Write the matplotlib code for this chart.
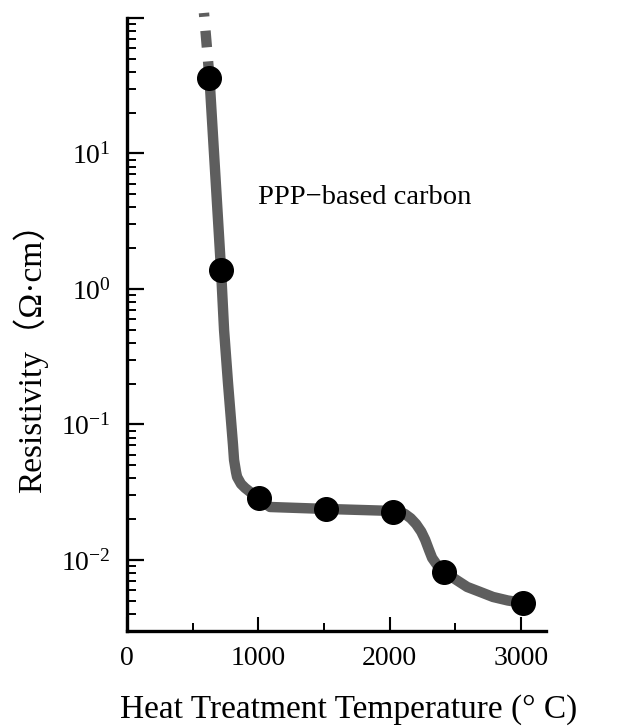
import matplotlib
matplotlib.use("Agg")
import matplotlib.pyplot as plt
from matplotlib.ticker import LogLocator, NullFormatter, FixedLocator

plt.rcParams['font.family'] = ['Liberation Serif', 'Noto Sans CJK SC', 'DejaVu Sans']
plt.rcParams['mathtext.fontset'] = 'custom'
plt.rcParams['mathtext.rm'] = 'Liberation Serif'
plt.rcParams['mathtext.it'] = 'Liberation Serif:italic'

# ---- data ----
marker_T = [628, 716, 1003, 1512, 2022, 2414, 3012]
marker_R = [36.1, 1.38, 0.0285, 0.0237, 0.0227, 0.0082, 0.00479]

curve_T = [628, 716, 739, 769, 807, 815, 830, 838, 868, 899, 937, 1005, 1089,
           1516, 2026, 2080, 2117, 2160, 2201, 2240, 2270, 2300, 2323, 2360,
           2414, 2500, 2590, 2690, 2787, 2900, 3016]
curve_R = [36.1, 1.38, 0.498, 0.202, 0.0706, 0.0547, 0.0446, 0.0410, 0.0364,
           0.0340, 0.0318, 0.0282, 0.0246, 0.0238, 0.0230, 0.0226, 0.0218,
           0.0203, 0.0184, 0.0162, 0.0141, 0.0118, 0.01035, 0.0092, 0.00815,
           0.0072, 0.00632, 0.0058, 0.00533, 0.00502, 0.00482]

dash_T = [628, 586]
dash_R = [36.1, 109]

x_major = [0, 1000, 2000, 3000]
x_minor = [500, 1500, 2500]
x_labels = ['0', '1000', '2000', '3000']
y_major = [1e-2, 1e-1, 1, 10, 100]
y_labels = ['$10^{-2}$', '$10^{-1}$', '$10^{0}$', '$10^{1}$', '']

line_color = '#5e5e5e'

fig = plt.figure(figsize=(6.4, 7.26), dpi=100)
ax = fig.add_axes([127/640, (726-631)/726, (546-127)/640, (631-18)/726])

ax.set_yscale('log')
ax.set_xlim(0, 3190)
ax.set_ylim(0.00299, 100)

ax.plot(curve_T, curve_R, color=line_color, lw=7.5, solid_joinstyle='round',
        solid_capstyle='butt', zorder=2)
ax.plot(dash_T, dash_R, color=line_color, lw=7.5, linestyle=(0, (1.6, 1.35)),
        dash_capstyle='butt', clip_on=False, zorder=2)
ax.plot(marker_T, marker_R, 'o', ms=17, color='black', mec='black', zorder=3,
        clip_on=False)

for s in ['top', 'right']:
    ax.spines[s].set_visible(False)
for s in ['left', 'bottom']:
    ax.spines[s].set_linewidth(2.4)

ax.xaxis.set_major_locator(FixedLocator(x_major))
ax.xaxis.set_minor_locator(FixedLocator(x_minor))
ax.set_xticklabels(x_labels)
ax.yaxis.set_major_locator(FixedLocator(y_major))
ax.set_yticklabels(y_labels)
ax.yaxis.set_minor_locator(LogLocator(base=10, subs=range(2, 10)))
ax.yaxis.set_minor_formatter(NullFormatter())

ax.tick_params(axis='x', which='major', direction='in', length=10, width=1.5,
               pad=11, labelsize=20)
ax.tick_params(axis='x', which='minor', direction='in', length=6, width=1.4)
ax.tick_params(axis='y', which='major', direction='in', length=12.5, width=1.6,
               pad=11.5, labelsize=20)
ax.tick_params(axis='y', which='minor', direction='in', length=6.5, width=1.4)

ax.text(0.3126, 0.696, 'PPP\u2212based carbon', transform=ax.transAxes,
        fontsize=20.5, ha='left', va='baseline')

fig.text(349/640, 1/726, 'Heat Treatment Temperature (\u00b0 C)', fontsize=24,
         ha='center', va='bottom')
fig.text(30/640, (726-350)/726, 'Resistivity\uff08\u03a9\u00b7cm\uff09', fontsize=24,
         rotation=90, ha='center', va='center')

fig.savefig('out.png', dpi=100)
